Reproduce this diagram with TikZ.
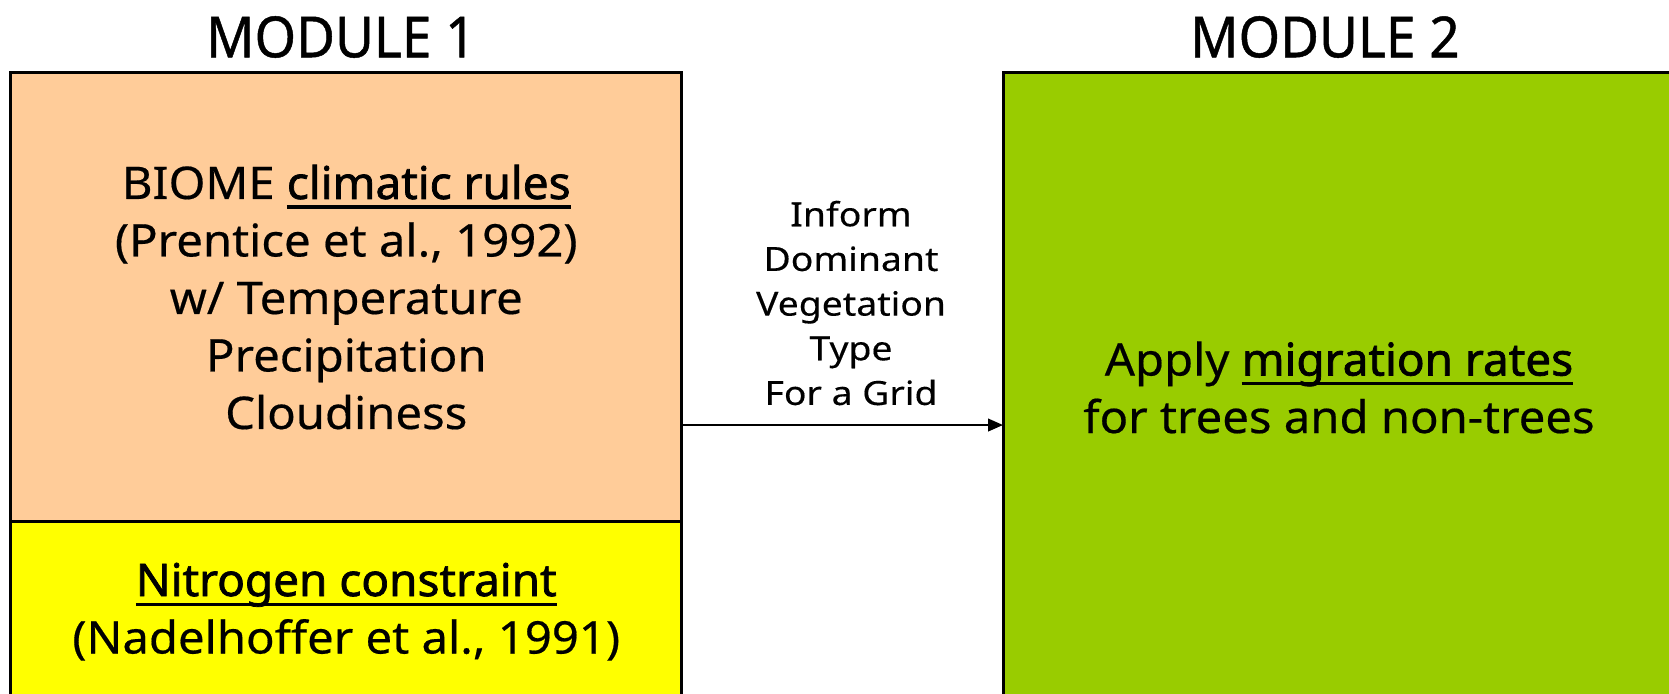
\documentclass[tikz,border=0pt]{standalone}
\usepackage{fontspec}
\setmainfont{Noto Sans}
\newfontfamily\boxfont[FakeStretch=1.05,FakeBold=0.4]{Noto Sans}
\newfontfamily\keyfont[FakeStretch=1.02,FakeBold=1.6]{Noto Sans}
\newfontfamily\labelfont[FakeStretch=1.12,FakeBold=0.3]{Noto Sans}
\newfontfamily\titlefont[FakeStretch=0.94,FakeBold=0.8]{Noto Sans}
\usetikzlibrary{arrows.meta}

\definecolor{biomeorange}{RGB}{255,204,153}
\definecolor{nitroyellow}{RGB}{255,255,0}
\definecolor{migrgreen}{RGB}{153,204,0}
% heavier, underlined key term
\newcommand{\keyterm}[1]{\setbox0\hbox{\keyfont #1}\rlap{\rule[-2.9pt]{\wd0}{0.95pt}}\box0}
\tikzset{
  flowchart/.style={x=0.3pt,y=-0.3pt},
  modbox/.style={draw=black,line width=0.9pt,inner sep=0pt,outer sep=0pt,align=center,
    font={\boxfont\fontsize{13.5pt}{17.25pt}\selectfont}},
  modtitle/.style={font={\titlefont\fontsize{17pt}{20pt}\selectfont}},
  flowlabel/.style={align=center,font={\labelfont\fontsize{10pt}{13.4pt}\selectfont}},
}

\begin{document}
\begin{tikzpicture}[flowchart]
    \useasboundingbox (0,0) rectangle (1669,693);
    % module 1: climate rules over the nitrogen constraint
    \node[modbox,fill=biomeorange,minimum width=201.4pt,minimum height=134.8pt,anchor=north west]
      (climate) at (10.6,72.4)
      {BIOME \keyterm{climatic rules}\\(Prentice et al., 1992)\\w/ Temperature\\Precipitation\\Cloudiness};
    \node[modbox,fill=nitroyellow,minimum width=201.4pt,minimum height=54pt,anchor=north west]
      (nitrogen) at (climate.south west)
      {\keyterm{Nitrogen constraint}\\(Nadelhoffer et al., 1991)};
    % module 2
    \node[modbox,fill=migrgreen,minimum width=201.6pt,minimum height=189pt,anchor=north west]
      (migration) at (1003,72.4)
      {Apply \keyterm{migration rates}\\for trees and non-trees};
    \node[modtitle] (title1) at (341,37) {MODULE 1};
    \node[modtitle] (title2) at (1325,37) {MODULE 2};
    % hand-over between the modules
    \coordinate (handover) at (682,425);
    \draw[line width=0.6pt,-{Triangle[length=4.5pt,width=3.8pt]}] (handover) -- (handover -| migration.west);
    \node[flowlabel] (inform) at (851,303) {Inform\\Dominant\\Vegetation\\Type\\For a Grid};
\end{tikzpicture}
\end{document}
